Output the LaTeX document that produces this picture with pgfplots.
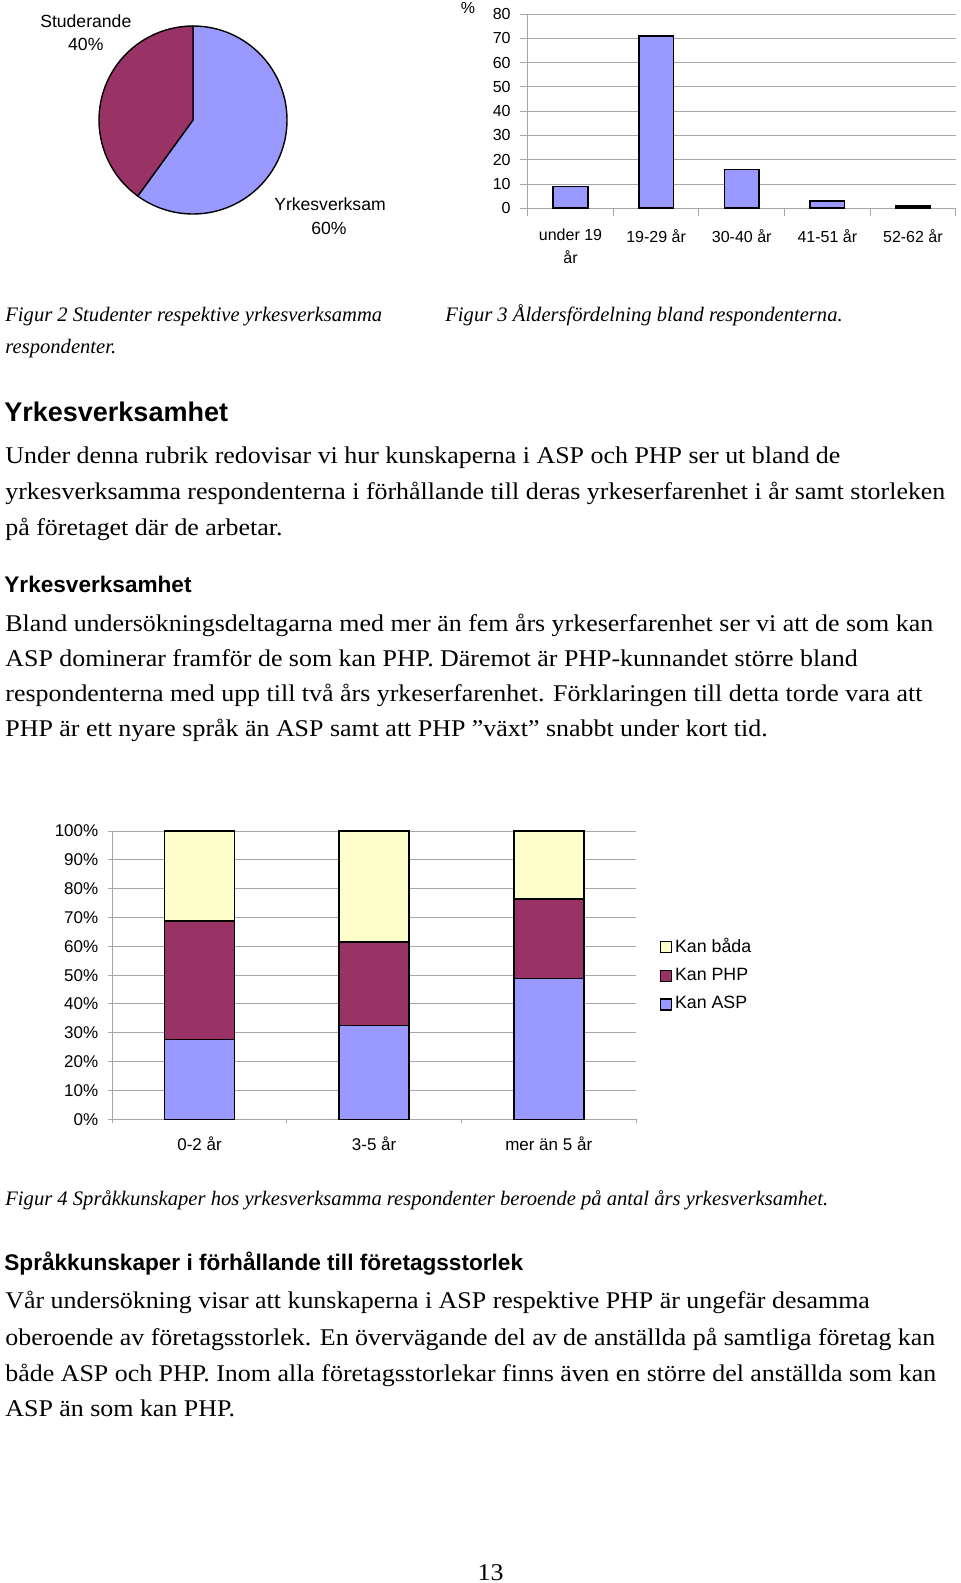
\documentclass[border=0pt]{standalone}
\usepackage{fontspec}
\setmainfont{Liberation Serif}
\setsansfont{Liberation Sans}
\newfontfamily\bodyfam{Liberation Serif}[FakeStretch=1.08]
\usepackage{pgfplots}
\pgfplotsset{compat=1.18}
\definecolor{aspblue}{HTML}{9999FF}
\definecolor{phpred}{HTML}{993366}
\definecolor{bothyel}{HTML}{FFFFCC}
\definecolor{gridc}{HTML}{A6A6A6}

\newcommand\body{\bodyfam\fontsize{12}{14}\selectfont}
\newcommand\capt{\rmfamily\itshape\fontsize{10.3}{12}\selectfont}
\newcommand\pielab{\sffamily\fontsize{8.8}{10}\selectfont}
\newcommand\hbig{\sffamily\bfseries\fontsize{13.5}{16}\selectfont}
\newcommand\hsmall{\sffamily\bfseries\fontsize{11.3}{14}\selectfont}

\pgfplotsset{
  xlchart/.style={
    scale only axis, anchor=south west,
    axis lines*=left, axis line style={draw=gridc, line width=0.5pt, -},
    ymajorgrids, grid style={draw=gridc, line width=0.5pt},
    tick style={draw=gridc, line width=0.5pt},
    tick align=outside,
    /pgf/number format/assume math mode=true,
    xticklabels={},
    clip=false,
  },
  sqlegend/.style={legend image code/.code={%
    \draw[##1, line width=0.8pt] (0pt,-2.75pt) rectangle (5.5pt,2.75pt);}},
}

\begin{document}
\begin{tikzpicture}
\useasboundingbox (0,0) rectangle (480pt,-791.5pt);

% Figur 2: pie
\begin{axis}[at={(96.5pt,-60pt)}, anchor=center, scale only axis,
  width=94pt, height=94pt, xmin=-1, xmax=1, ymin=-1, ymax=1,
  hide axis, clip=false]
\filldraw[fill=aspblue, draw=black, line width=0.7pt]
  (axis cs:0,0) -- (axis cs:0,1) arc[start angle=90, end angle={90-3.6*60}, radius=47pt] -- cycle;
\filldraw[fill=phpred, draw=black, line width=0.7pt]
  (axis cs:0,0) -- ++({90-3.6*60}:47pt) arc[start angle={90-3.6*60}, end angle={90-3.6*100}, radius=47pt] -- cycle;
\end{axis}

% Figur 3: age distribution
\begin{axis}[xlchart, at={(263.85pt,-104.15pt)},
  width=214pt, height=97.15pt,
  xmin=0.5, xmax=5.5, ymin=0, ymax=80,
  ytick={0,10,...,80}, major tick length=4pt,
  xtick={0.5,1.5,...,5.5},
  extra x ticks={1,2,3,4,5},
  extra x tick labels={{under 19\\år},{19-29 år},{30-40 år},{41-51 år},{52-62 år}},
  extra x tick style={major tick length=0pt,
    xticklabel style={yshift=-7pt, align=center}},
  ticklabel style={font=\sffamily\fontsize{8}{11.5}\selectfont},
  yticklabel style={xshift=-1pt}]
\addplot[ybar, bar width=17.35pt, fill=aspblue, draw=black, line width=0.8pt]
  coordinates {(1,9) (2,71) (3,16) (4,3) (5,1)};
\end{axis}

% Figur 4: stacked language skills
\begin{axis}[xlchart, at={(56.15pt,-559.65pt)},
  width=261.85pt, height=144.15pt,
  xmin=0.5, xmax=3.5, ymin=0, ymax=100,
  ybar stacked, bar width=35pt,
  ytick={0,10,...,100}, major tick length=2pt,
  yticklabel={\pgfmathprintnumber{\tick}\%},
  xtick={0.5,1.5,2.5,3.5},
  extra x ticks={1,2,3},
  extra x tick labels={0-2 år,3-5 år,mer än 5 år},
  extra x tick style={major tick length=0pt,
    xticklabel style={yshift=-5pt, align=center}},
  ticklabel style={font=\sffamily\fontsize{8.5}{10}\selectfont},
  yticklabel style={xshift=-1.5pt},
  reverse legend,
  legend style={at={(1,0.5)}, anchor=west, xshift=11.6pt, draw=none, fill=none,
    font=\sffamily\fontsize{8.9}{10}\selectfont, row sep=3.6pt, inner sep=0pt,
    nodes={inner sep=1.4pt}},
  legend cell align=left]
\addplot[fill=aspblue, draw=black, line width=0.8pt, sqlegend]
  coordinates {(1,27.7) (2,32.5) (3,48.8)};
\addplot[fill=phpred, draw=black, line width=0.8pt, sqlegend]
  coordinates {(1,41.0) (2,29.1) (3,27.6)};
\addplot[fill=bothyel, draw=black, line width=0.8pt, sqlegend]
  coordinates {(1,31.3) (2,38.4) (3,23.6)};
\legend{Kan ASP, Kan PHP, Kan båda}
\end{axis}

\begin{scope}[x=0.5pt, y=-0.5pt, every node/.style={inner sep=0pt}]
% pie labels
\node[anchor=base, font=\pielab] at (85.8,27.3) {Studerande};
\node[anchor=base, font=\pielab] at (85.8,50.7) {40\%};
\node[anchor=base, font=\pielab] at (330,210.7) {Yrkesverksam};
\node[anchor=base, font=\pielab] at (329,235) {60\%};
\node[anchor=base, font=\sffamily\fontsize{8}{10}\selectfont] at (468,13.3) {\%};

% captions
\node[anchor=base west, font=\capt] at (5,321.5) {Figur 2 Studenter respektive yrkesverksamma};
\node[anchor=base west, font=\capt] at (5,353) {respondenter.};
\node[anchor=base west, font=\capt] at (445,321.5) {Figur 3 Åldersfördelning bland respondenterna.};

\node[anchor=base west, font=\hbig] at (4,421.7) {Yrkesverksamhet};
\node[anchor=base west, font=\body] at (5,463.5) {Under denna rubrik redovisar vi hur kunskaperna i ASP och PHP ser ut bland de};
\node[anchor=base west, font=\body] at (5,499.5) {yrkesverksamma respondenterna i förhållande till deras yrkeserfarenhet i år samt storleken};
\node[anchor=base west, font=\body] at (5,535.5) {på företaget där de arbetar.};

\node[anchor=base west, font=\hsmall] at (4,592.3) {Yrkesverksamhet};
\node[anchor=base west, font=\body] at (5,631) {Bland undersökningsdeltagarna med mer än fem års yrkeserfarenhet ser vi att de som kan};
\node[anchor=base west, font=\body] at (5,666.7) {ASP dominerar framför de som kan PHP. Däremot är PHP-kunnandet större bland};
\node[anchor=base west, font=\body] at (5,701.7) {respondenterna med upp till två års yrkeserfarenhet. Förklaringen till detta torde vara att};
\node[anchor=base west, font=\body] at (5,736) {PHP är ett nyare språk än ASP samt att PHP ”växt” snabbt under kort tid.};

\node[anchor=base west, font=\capt] at (5,1205) {Figur 4 Språkkunskaper hos yrkesverksamma respondenter beroende på antal års yrkesverksamhet.};

\node[anchor=base west, font=\hsmall] at (4,1270) {Språkkunskaper i förhållande till företagsstorlek};
\node[anchor=base west, font=\body] at (5,1308) {Vår undersökning visar att kunskaperna i ASP respektive PHP är ungefär desamma};
\node[anchor=base west, font=\body] at (5,1345) {oberoende av företagsstorlek. En övervägande del av de anställda på samtliga företag kan};
\node[anchor=base west, font=\body] at (5,1381.7) {både ASP och PHP. Inom alla företagsstorlekar finns även en större del anställda som kan};
\node[anchor=base west, font=\body] at (5,1416.7) {ASP än som kan PHP.};

\node[anchor=base, font=\body] at (490.6,1580) {13};
\end{scope}
\end{tikzpicture}
\end{document}
